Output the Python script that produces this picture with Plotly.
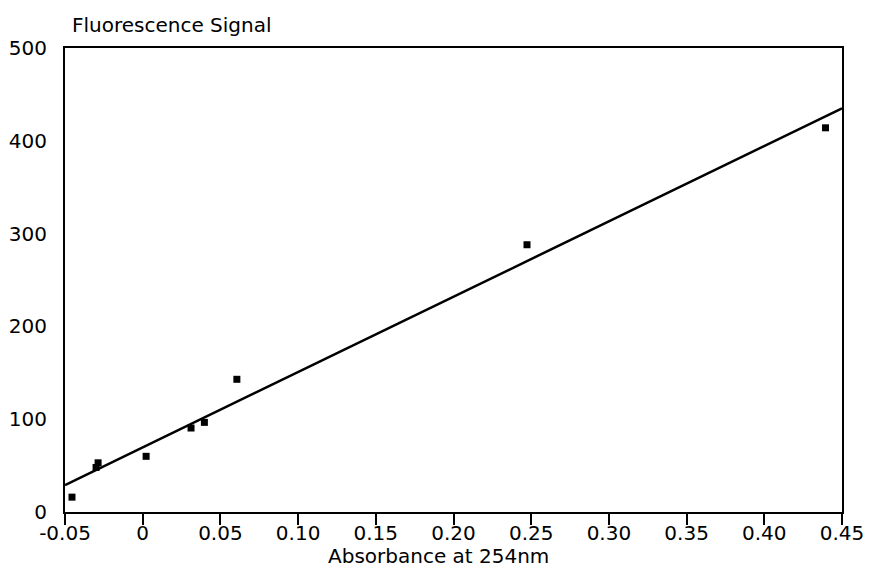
import plotly.graph_objects as go

# Measured data points (absorbance, fluorescence signal)
absorbance = [-0.0455, -0.0300, -0.0287, 0.0022, 0.0311, 0.0397, 0.0606, 0.2473, 0.4394]
fluorescence = [16, 48, 53, 60, 90.5, 96.6, 143, 288, 414]

# Fitted line endpoints
fit_x = [-0.05, 0.45]
fit_y = [29, 435]

x_tickvals = [-0.05, 0, 0.05, 0.10, 0.15, 0.20, 0.25, 0.30, 0.35, 0.40, 0.45]
x_ticktext = ["-0.05", "0", "0.05", "0.10", "0.15", "0.20", "0.25", "0.30", "0.35", "0.40", "0.45"]
y_tickvals = [0, 100, 200, 300, 400, 500]

FONT = "DejaVu Sans"
FS = 20
OFF = 8  # page body margin offset

L, R, T, B = 65 - OFF, 874 - 842 + OFF, 48 - OFF, 567 - 512 + OFF
plot_w = 874 - L - R

fig = go.Figure()
fig.add_trace(go.Scatter(x=fit_x, y=fit_y, mode="lines",
                         line=dict(color="black", width=2.5), showlegend=False))
fig.add_trace(go.Scatter(x=absorbance, y=fluorescence, mode="markers",
                         marker=dict(symbol="square", size=7, color="black"),
                         showlegend=False))

fig.update_layout(
    width=874, height=567,
    margin=dict(l=L, r=R, t=T, b=B),
    paper_bgcolor="white", plot_bgcolor="white",
    font=dict(family=FONT, size=FS, color="black"),
    title=dict(text="Fluorescence Signal", x=(72 - OFF) / 874, xanchor="left",
               y=1 - (25 - OFF) / 567, yanchor="middle", font=dict(family=FONT, size=FS)),
    xaxis=dict(range=[-0.05, 0.45], tickvals=x_tickvals, ticktext=x_ticktext,
               showgrid=False, zeroline=False, showline=True, linecolor="black",
               linewidth=2, mirror=True, ticks="outside", ticklen=11, tickwidth=1.5,
               tickcolor="black", tickfont=dict(family=FONT, size=FS),
               ticklabelstandoff=-9, automargin=False),
    yaxis=dict(range=[0, 500], tickvals=y_tickvals, showgrid=False, zeroline=False,
               showline=True, linecolor="black", linewidth=2, mirror=True,
               ticks="", ticklabelstandoff=12, tickfont=dict(family=FONT, size=FS),
               automargin=False),
    annotations=[dict(text="Absorbance at 254nm", xref="paper", yref="paper",
                      x=(438 - 65) / plot_w, y=0, yshift=-44, xanchor="center",
                      yanchor="middle", showarrow=False,
                      font=dict(family=FONT, size=FS))],
)

fig.write_html("out.html")
